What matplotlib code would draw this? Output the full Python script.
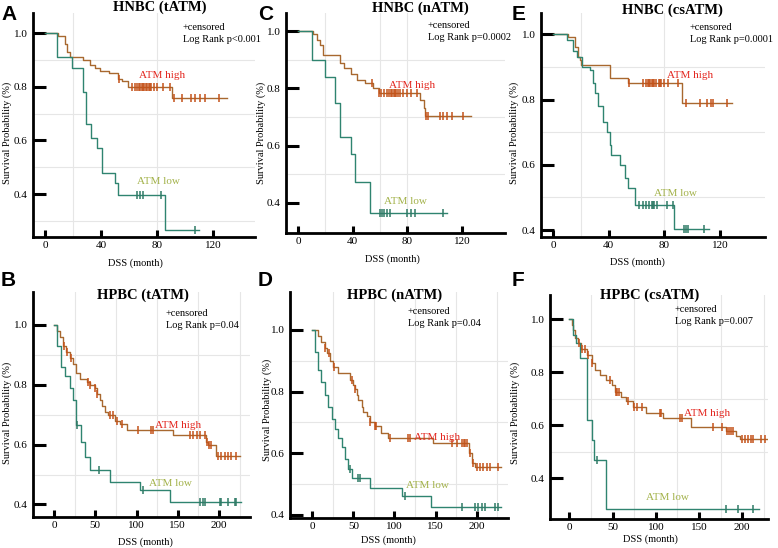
import numpy as np
import matplotlib.pyplot as plt

plt.rcParams['font.family'] = ['Liberation Serif', 'DejaVu Serif']

W, H = 778, 548

# ---------------- data: event times (months), survival after event, censor times ----------------
a_high_t = [9.5, 14, 16, 17.5, 27, 32, 36, 39, 46, 52, 55, 59, 91]
a_high_s = [0.99, 0.96, 0.93, 0.91, 0.90, 0.88, 0.87, 0.86, 0.85, 0.83, 0.82, 0.80, 0.76]
a_high_c = [53, 62, 64, 66, 67, 68, 69, 70, 71, 72, 73, 74, 75, 76, 78, 80, 84, 89,
            92, 98, 104, 107, 111, 114, 124]
a_high_end = 130
a_low_t = [8.5, 19, 27, 29, 33, 37, 41, 50, 52, 86]
a_low_s = [0.91, 0.87, 0.78, 0.66, 0.61, 0.57, 0.48, 0.44, 0.395, 0.265]
a_low_c = [66, 68, 70, 83, 107]
a_low_end = 110

c_high_t = [11, 14, 16, 18.5, 31, 34, 39, 43, 49, 55, 59, 89.5, 92, 93]
c_high_s = [0.99, 0.97, 0.95, 0.915, 0.89, 0.87, 0.85, 0.83, 0.82, 0.80, 0.785, 0.76, 0.73, 0.705]
c_high_c = [54.5, 59.5, 61, 63, 65, 67, 68, 69, 70, 71, 72, 73, 75, 77, 80, 83, 87,
            94, 95, 104, 106.5, 109, 113, 121]
c_high_end = 127
c_low_t = [10, 20, 27, 30.7, 39, 42, 52.7]
c_low_s = [0.90, 0.84, 0.75, 0.63, 0.57, 0.474, 0.366]
c_low_c = [60, 61.5, 63, 65, 67.5, 79.5, 83, 86, 106]
c_low_end = 109

e_high_t = [11, 15.8, 18, 19.5, 20.3, 41, 54, 92.5]
e_high_s = [0.99, 0.96, 0.93, 0.92, 0.905, 0.865, 0.85, 0.788]
e_high_c = [55, 65, 67, 68, 69, 70, 71, 72, 73, 74, 76, 77, 78, 80, 83, 90,
            96, 105.7, 110.6, 114, 115.4, 125]
e_high_end = 128.5
e_low_t = [9.8, 14.6, 17, 20.6, 26.6, 29, 30, 32.6, 36, 38.6, 41, 42, 48, 51.8, 54, 59, 87]
e_low_s = [0.983, 0.95, 0.93, 0.90, 0.89, 0.85, 0.82, 0.78, 0.73, 0.70, 0.66, 0.63,
           0.60, 0.56, 0.53, 0.476, 0.405]
e_low_c = [61.6, 65, 67, 69, 71, 72, 73, 75, 82, 86, 94.6, 96, 97.2, 108.8]
e_low_end = 112

b_high_t = [3, 7, 11, 15, 19, 23, 27, 31.5, 40, 43.6, 49.7, 51.7, 55.8, 57.8, 61.8, 65.9,
            74, 80, 88, 144, 184, 187, 196]
b_high_s = [0.98, 0.96, 0.93, 0.91, 0.89, 0.87, 0.84, 0.82, 0.81, 0.80, 0.79, 0.77, 0.75,
            0.73, 0.71, 0.70, 0.68, 0.67, 0.65, 0.632, 0.61, 0.60, 0.562]
b_high_c = [11.5, 15.5, 21, 41.6, 43.8, 50, 52, 68, 72, 76, 82, 102, 118, 120, 165, 169,
            173, 177, 183, 185, 188, 190, 199, 203, 207, 211, 215, 221]
b_high_end = 225
b_low_t = [3, 8, 13, 19, 23, 27, 33, 37, 44, 68, 104, 140]
b_low_s = [0.93, 0.86, 0.83, 0.79, 0.75, 0.665, 0.61, 0.56, 0.515, 0.476, 0.448, 0.407]
b_low_c = [28, 54, 108, 177, 181, 183, 201, 203, 211, 219, 221]
b_low_end = 227

d_high_t = [7.3, 11, 15.4, 17.4, 21.5, 25.6, 31.6, 45.8, 50, 52, 54, 56, 60, 62, 66, 70,
            76, 84, 92.5, 147, 190, 194, 198]
d_high_s = [0.98, 0.96, 0.94, 0.924, 0.90, 0.88, 0.86, 0.838, 0.82, 0.81, 0.79, 0.773,
            0.75, 0.735, 0.72, 0.70, 0.69, 0.665, 0.65, 0.632, 0.60, 0.567, 0.556]
d_high_c = [16, 20, 26, 48, 52.5, 70.5, 76.5, 78, 94.5, 117, 119, 170, 175.6, 181.7,
            184, 186, 188, 192, 196, 200, 204, 208, 212, 216, 226]
d_high_end = 230
d_low_t = [3.2, 7.3, 11, 15.4, 19.5, 23.5, 27.6, 31.6, 35.7, 39.8, 43.8, 48, 70, 108.7, 145]
d_low_s = [0.93, 0.87, 0.83, 0.79, 0.75, 0.71, 0.68, 0.65, 0.62, 0.58, 0.55, 0.52,
           0.486, 0.46, 0.427]
d_low_c = [46, 56, 58, 112.8, 181.7, 198, 202, 206, 210, 222, 226]
d_low_end = 230

f_high_t = [2.7, 4.6, 6.5, 10.4, 14, 20, 25.8, 29.6, 35, 43, 49, 52.7, 60, 66, 74, 89,
            108, 141, 181.5, 193, 197]
f_high_s = [0.98, 0.96, 0.928, 0.909, 0.887, 0.865, 0.834, 0.81, 0.79, 0.77, 0.752,
            0.727, 0.708, 0.69, 0.67, 0.645, 0.626, 0.595, 0.58, 0.56, 0.547]
f_high_c = [11, 15, 18, 22, 26.5, 47, 53.5, 55, 57, 68, 75, 78, 84, 104.6, 106.5, 128,
            130, 166, 176, 182, 185, 187, 189, 200, 203, 206.5, 210, 212, 222, 226]
f_high_end = 235
f_low_t = [4.6, 8, 12.5, 20.8, 25.8, 28.5, 43]
f_low_s = [0.94, 0.91, 0.853, 0.62, 0.545, 0.47, 0.283]
f_low_c = [31.5, 181.5, 195, 212]
f_low_end = 219

HIGH_LINE = '#a8682f'
HIGH_MARK = '#c4521a'
LOW_LINE = '#2f8470'
LOW_MARK = '#2f7a66'
HIGH_TXT = '#e3261f'
LOW_TXT = '#a3b24a'
GRID = '#e6e6e6'


def fx(px):
    return px / W


def fy(py):
    return 1 - py / H


def km(ax, t, s, c, end, line, mark):
    x = [0] + list(t) + [end]
    y = [1.0] + list(s) + [s[-1]]
    ax.step(x, y, where='post', color=line, lw=1.0, zorder=3)
    idx = np.searchsorted(t, c, side='right')
    cy = np.concatenate([[1.0], s])[idx]
    ax.plot(c, cy, ls='none', marker='|', ms=6, mew=1.1, color=mark, zorder=4)


fig = plt.figure(figsize=(W / 100, H / 100), dpi=100)

panels = [
    dict(letter='A', title='HNBC (tATM)', p='Log Rank p<0.001',
         box=(33, 255, 13, 237), xlim=(-8.6, 150), ylim=(0.24, 1.075),
         xticks=[0, 40, 80, 120], vgrid=[20, 80], hgrid=[0.3, 0.5, 0.7, 0.9],
         data=(a_high_t, a_high_s, a_high_c, a_high_end, a_low_t, a_low_s, a_low_c, a_low_end),
         let=(1, 14), tit=(160, 7), cen=(183, 28), hi=(162, 76), lo=(158, 181),
         yl=(7, 133), xl=(135, 263)),
    dict(letter='C', title='HNBC (nATM)', p='Log Rank p=0.0002',
         box=(286, 505, 13, 233), xlim=(-8.8, 151.6), ylim=(0.295, 1.063),
         xticks=[0, 40, 80, 120], vgrid=[20, 60, 80], hgrid=[0.5, 0.7, 0.9],
         data=(c_high_t, c_high_s, c_high_c, c_high_end, c_low_t, c_low_s, c_low_c, c_low_end),
         let=(258, 15), tit=(420, 8), cen=(428, 25), hi=(412, 85), lo=(405, 201),
         yl=(261, 133), xl=(392, 259)),
    dict(letter='E', title='HNBC (csATM)', p='Log Rank p=0.0001',
         box=(541, 765, 13, 237), xlim=(-8.6, 152.5), ylim=(0.379, 1.065),
         xticks=[0, 40, 80, 120], vgrid=[20, 80], hgrid=[0.5, 0.7, 0.9],
         data=(e_high_t, e_high_s, e_high_c, e_high_end, e_low_t, e_low_s, e_low_c, e_low_end),
         let=(512, 14), tit=(672, 10), cen=(690, 28), hi=(690, 75), lo=(675, 193),
         yl=(514, 133), xl=(637, 262)),
    dict(letter='B', title='HPBC (tATM)', p='Log Rank p=0.04',
         box=(33, 250, 292, 517), xlim=(-25.5, 237.6), ylim=(0.358, 1.11),
         xticks=[0, 50, 100, 150, 200], vgrid=[25, 75, 125, 175, 225], hgrid=[0.5, 0.7, 0.9],
         data=(b_high_t, b_high_s, b_high_c, b_high_end, b_low_t, b_low_s, b_low_c, b_low_end),
         let=(1, 281), tit=(143, 295), cen=(166, 313), hi=(178, 425), lo=(170, 483),
         yl=(7, 413), xl=(145, 542)),
    dict(letter='D', title='HPBC (nATM)', p='Log Rank p=0.04',
         box=(290, 508, 292, 518), xlim=(-27, 238), ylim=(0.39, 1.123),
         xticks=[0, 50, 100, 150, 200], vgrid=[25, 75, 125, 175, 225], hgrid=[0.5, 0.7, 0.9],
         data=(d_high_t, d_high_s, d_high_c, d_high_end, d_low_t, d_low_s, d_low_c, d_low_end),
         let=(258, 281), tit=(395, 295), cen=(408, 312), hi=(437, 437), lo=(427, 486),
         yl=(267, 410), xl=(388, 540)),
    dict(letter='F', title='HPBC (csATM)', p='Log Rank p=0.007',
         box=(550, 768, 295, 519), xlim=(-22.3, 229.7), ylim=(0.246, 1.092),
         xticks=[0, 50, 100, 150, 200], vgrid=[25, 75, 125, 175, 225], hgrid=[0.5, 0.7, 0.9],
         data=(f_high_t, f_high_s, f_high_c, f_high_end, f_low_t, f_low_s, f_low_c, f_low_end),
         let=(512, 281), tit=(650, 295), cen=(675, 310), hi=(707, 413), lo=(667, 498),
         yl=(515, 413), xl=(650, 539)),
]

for pn in panels:
    x0, x1, yt, yb = pn['box']
    ax = fig.add_axes([fx(x0), fy(yb), (x1 - x0) / W, (yb - yt) / H])
    ax.set_xlim(*pn['xlim'])
    ax.set_ylim(*pn['ylim'])
    for g in pn['vgrid']:
        ax.axvline(g, color=GRID, lw=0.8, zorder=0)
    for g in pn['hgrid']:
        ax.axhline(g, color=GRID, lw=0.8, zorder=0)
    ht, hs, hc, he, lt, ls, lc, le = pn['data']
    km(ax, ht, hs, hc, he, HIGH_LINE, HIGH_MARK)
    km(ax, lt, ls, lc, le, LOW_LINE, LOW_MARK)

    ax.set_xticks(pn['xticks'])
    ax.set_yticks([0.4, 0.6, 0.8, 1.0])
    ax.set_yticklabels(['0.4', '0.6', '0.8', '1.0'])
    ax.tick_params(axis='y', direction='in', length=9, width=2.2, pad=4, labelsize=8)
    ax.tick_params(axis='x', direction='in', length=5, width=2.2, pad=3, labelsize=8)
    for sp in ['top', 'right']:
        ax.spines[sp].set_visible(False)
    for sp in ['left', 'bottom']:
        ax.spines[sp].set_linewidth(2.0)

    fig.text(fx(pn['let'][0]), fy(pn['let'][1]), pn['letter'], family='Liberation Sans',
             fontweight='bold', fontsize=15, ha='left', va='center')
    fig.text(fx(pn['tit'][0]), fy(pn['tit'][1]), pn['title'], fontweight='bold',
             fontsize=10.5, ha='center', va='center')
    fig.text(fx(pn['cen'][0]), fy(pn['cen'][1]), '+censored', fontsize=7.5,
             ha='left', va='center')
    fig.text(fx(pn['cen'][0]), fy(pn['cen'][1] + 12), pn['p'], fontsize=7.5,
             ha='left', va='center')
    fig.text(fx(pn['hi'][0]), fy(pn['hi'][1]), 'ATM high', color=HIGH_TXT, fontsize=8,
             ha='center', va='center')
    fig.text(fx(pn['lo'][0]), fy(pn['lo'][1]), 'ATM low', color=LOW_TXT, fontsize=8,
             ha='center', va='center')
    fig.text(fx(pn['yl'][0]), fy(pn['yl'][1]), 'Survival Probability (%)', fontsize=7.5,
             rotation=90, ha='center', va='center')
    fig.text(fx(pn['xl'][0]), fy(pn['xl'][1]), 'DSS (month)', fontsize=7.5,
             ha='center', va='center')

fig.savefig('out.png', dpi=100)
